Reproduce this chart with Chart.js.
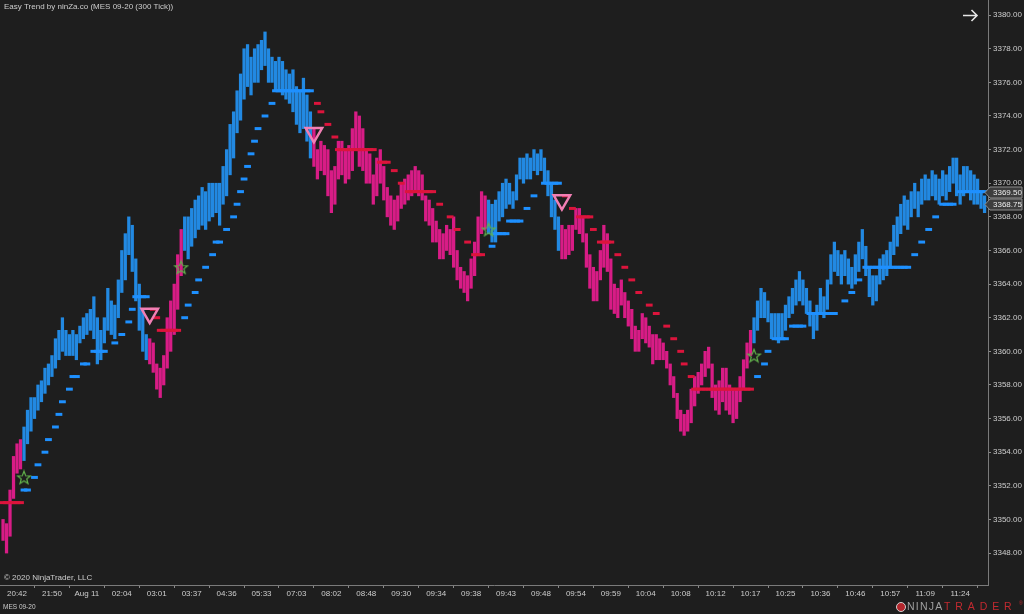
<!DOCTYPE html>
<html><head><meta charset="utf-8">
<script src="https://cdn.jsdelivr.net/npm/chart.js@4/dist/chart.umd.min.js"></script>
<style>html,body{margin:0;padding:0;background:#1e1e1e;overflow:hidden}</style>
</head><body>
<canvas id="c" width="1024" height="614"></canvas>
<script>
const _ = null;
const chartTitle = 'Easy Trend by ninZa.co (MES 09-20 (300 Tick))';
const instrument = 'MES 09-20';
const copyrightText = '\u00A9 2020 NinjaTrader, LLC';
const timeLabels = ['20:42','21:50','Aug 11','02:04','03:01','03:37','04:36','05:33','07:03','08:02','08:48','09:30','09:34','09:38','09:43','09:48','09:54','09:59','10:04','10:08','10:12','10:17','10:25','10:36','10:46','10:57','11:09','11:24'];
const timeLabelBars = [4,14,24,34,44,54,64,74,84,94,104,114,124,134,144,154,164,174,184,194,204,214,224,234,244,254,264,274];
const priceTicks = [3348,3350,3352,3354,3356,3358,3360,3362,3364,3366,3368,3370,3372,3374,3376,3378,3380];

const highs = [
3350.0,3349.75,3351.75,3353.75,3354.5,3354.75,3355.5,3356.5,3357.25,3357.25,
3358.0,3358.25,3359.0,3359.25,3359.75,3360.75,3361.25,3362.0,3361.25,3361.0,
3361.25,3361.0,3361.5,3362.0,3362.25,3362.5,3363.25,3362.0,3361.25,3362.0,
3363.75,3363.0,3362.75,3364.25,3366.0,3367.0,3368.0,3367.5,3365.5,3364.0,
3362.5,3361.0,3360.75,3360.5,3359.25,3359.0,3359.75,3362.0,3363.0,3364.0,
3365.75,3367.25,3368.0,3368.0,3368.5,3369.0,3369.25,3369.75,3369.5,3370.0,
3370.0,3370.0,3370.0,3371.0,3372.0,3373.5,3374.25,3375.5,3376.5,3378.0,
3378.25,3377.5,3378.0,3378.25,3378.5,3379.0,3378.0,3377.5,3377.25,3377.5,
3377.25,3376.75,3376.5,3376.75,3375.75,3375.5,3376.25,3375.25,3374.25,3373.25,
3372.0,3372.5,3372.25,3372.0,3370.75,3371.0,3372.5,3372.5,3372.0,3372.25,
3373.25,3374.25,3374.0,3373.25,3372.0,3371.75,3370.5,3371.5,3372.0,3371.0,
3369.75,3369.25,3369.0,3369.25,3370.0,3370.25,3370.5,3370.75,3371.0,3370.75,
3370.5,3369.25,3369.0,3368.5,3367.75,3367.25,3367.0,3367.5,3367.25,3368.0,
3366.0,3365.0,3364.75,3364.5,3365.5,3366.5,3368.0,3369.5,3369.25,3369.0,
3368.75,3369.0,3369.5,3370.0,3370.25,3370.0,3369.5,3370.5,3371.5,3371.5,
3371.75,3371.5,3372.0,3371.75,3372.0,3371.5,3370.75,3370.0,3369.0,3368.0,
3367.5,3367.25,3367.5,3367.5,3368.5,3368.5,3368.0,3367.0,3365.75,3365.0,
3364.75,3366.0,3367.5,3367.0,3365.5,3364.0,3363.75,3364.25,3363.5,3363.0,
3362.5,3361.5,3361.25,3362.25,3362.0,3361.5,3361.0,3361.0,3360.75,3360.5,
3360.0,3359.25,3358.5,3357.5,3356.5,3356.25,3356.5,3357.75,3358.5,3358.75,
3359.25,3360.0,3360.25,3359.25,3358.0,3358.25,3359.0,3359.0,3358.0,3357.75,
3357.75,3358.5,3359.5,3360.5,3361.25,3362.0,3363.0,3363.75,3363.5,3363.0,
3362.25,3362.25,3362.25,3362.25,3362.75,3363.25,3363.75,3364.25,3364.75,3364.25,
3363.75,3363.0,3362.25,3362.75,3363.75,3363.25,3364.25,3365.75,3366.5,3366.0,
3365.75,3366.0,3365.5,3365.0,3365.75,3366.5,3367.25,3366.25,3365.0,3364.5,
3364.5,3365.5,3365.75,3366.0,3366.5,3367.5,3368.0,3368.75,3369.25,3369.0,
3369.5,3370.0,3369.5,3370.25,3370.5,3370.25,3370.75,3370.5,3370.25,3370.75,
3370.5,3371.0,3371.5,3371.5,3370.5,3371.0,3371.0,3370.75,3370.5,3370.25,
3369.5,3369.25];

const lows = [
3348.75,3348.0,3349.0,3351.25,3352.75,3353.0,3353.5,3354.5,3355.25,3356.0,
3356.5,3357.0,3357.5,3358.0,3358.5,3359.0,3359.5,3360.0,3359.75,3359.75,
3359.75,3359.5,3360.5,3360.75,3361.0,3361.25,3360.75,3359.25,3359.5,3360.5,
3361.25,3361.0,3360.75,3362.0,3363.5,3364.25,3365.75,3364.75,3363.0,3361.25,
3360.0,3359.5,3359.25,3358.75,3357.75,3357.25,3358.0,3359.0,3360.0,3361.0,
3362.5,3364.5,3366.0,3365.5,3366.25,3366.75,3367.25,3367.5,3367.25,3367.75,
3368.0,3368.25,3367.5,3368.75,3369.25,3370.5,3371.5,3373.0,3373.75,3375.0,
3375.75,3375.25,3376.0,3376.0,3376.75,3377.0,3376.0,3376.0,3375.5,3375.5,
3375.25,3375.0,3374.75,3374.25,3373.5,3373.0,3373.25,3372.5,3371.5,3371.0,
3370.25,3370.75,3370.5,3369.25,3368.25,3368.75,3370.25,3370.5,3370.0,3370.25,
3370.75,3372.0,3371.0,3370.75,3370.0,3370.0,3368.75,3369.25,3370.0,3369.0,
3368.0,3367.5,3367.25,3367.75,3368.5,3368.75,3369.0,3369.25,3369.5,3369.25,
3369.0,3367.75,3367.5,3366.5,3366.5,3365.5,3365.5,3366.0,3365.75,3365.0,
3364.25,3363.75,3363.5,3363.0,3363.75,3364.5,3365.75,3367.0,3367.25,3367.0,
3366.5,3366.5,3367.75,3368.0,3368.5,3368.75,3368.5,3369.0,3370.25,3370.0,
3370.25,3370.25,3370.75,3370.5,3370.75,3370.0,3369.25,3368.0,3367.25,3366.0,
3365.5,3365.5,3365.75,3366.0,3367.25,3367.0,3366.5,3365.0,3363.75,3363.0,
3363.0,3364.25,3365.0,3364.75,3362.5,3362.25,3362.0,3362.75,3362.0,3361.5,
3360.75,3360.0,3360.0,3360.75,3360.5,3360.25,3359.25,3359.5,3359.5,3359.5,
3359.0,3358.0,3357.25,3356.0,3355.25,3355.0,3355.25,3355.75,3356.75,3357.5,
3358.0,3358.5,3359.0,3357.25,3356.5,3356.25,3357.0,3356.5,3356.25,3355.75,
3356.0,3357.0,3357.75,3359.0,3359.75,3360.5,3361.25,3362.0,3362.0,3361.75,
3360.75,3360.75,3360.5,3360.75,3361.25,3362.0,3362.25,3362.75,3363.0,3362.75,
3362.25,3361.5,3360.75,3361.25,3362.25,3362.0,3362.5,3364.0,3364.75,3364.5,
3364.0,3364.5,3364.0,3363.75,3364.0,3364.75,3365.5,3364.5,3363.25,3362.75,
3363.0,3364.0,3364.25,3364.5,3365.0,3365.75,3366.25,3367.0,3367.5,3367.25,
3368.0,3368.5,3368.0,3368.75,3369.0,3369.0,3369.25,3369.0,3368.75,3369.25,
3369.0,3369.5,3370.0,3369.25,3368.75,3369.25,3369.5,3369.0,3368.75,3368.75,
3368.5,3368.25];

const trendLine = [
3351,3351,3351,3351,3351,3351,3351.75,3351.75,_,3352.5,
3353.25,_,3354,3354.75,_,3355.5,3356.25,3357,_,3357.75,
3358.5,3358.5,_,3359.25,3359.25,_,3360,3360,3360,3360,
_,_,3360.5,_,3361,_,3361.75,3362.5,3363.25,3363.25,
3363.25,3363.25,_,3362.5,3362,3361.25,3361.25,3361.25,3361.25,3361.25,
3361.25,_,3362,3362.75,_,3363.5,3364.25,_,3365,_,
3365.75,3366.5,3366.5,_,3367.25,_,3368,3368.75,3369.5,3370.25,
3371,3371.75,3372.5,3373.25,_,3374,_,3374.75,3375.5,3375.5,
3375.5,3375.5,3375.5,3375.5,3375.5,3375.5,3375.5,3375.5,3375.5,_,
3374.75,3374.25,_,3373.5,_,3372.75,3372,3372,3372,3372,
3372,3372,3372,3372,3372,3372,3372,_,3371.25,3371.25,
3371.25,_,3370.75,_,3370,_,3369.5,3369.5,3369.5,3369.5,
3369.5,3369.5,3369.5,3369.5,_,3368.75,_,_,3368,_,
3367.25,_,_,3366.5,_,3365.75,3365.75,3365.75,_,_,
3366.25,3367,3367,3367,3367,3367.75,3367.75,3367.75,3367.75,_,
3368.5,_,3369.25,_,_,3370,3370,3370,3370,3370,
_,3369.25,_,3368.5,_,3368,3368,3368,3368,3367.25,
_,3366.5,3366.5,3366.5,3366.5,_,3365.75,_,3365,_,
3364.25,_,3363.5,_,_,3362.75,_,3362.25,_,_,
3361.5,_,3360.75,_,3360,3359.25,_,3358.5,3357.75,3357.75,
3357.75,3357.75,3357.75,3357.75,3357.75,3357.75,3357.75,3357.75,3357.75,3357.75,
3357.75,3357.75,3357.75,3357.75,3357.75,_,3358.5,_,3359.25,3360,
_,3360.75,3360.75,3360.75,3360.75,_,3361.5,3361.5,3361.5,3361.5,
_,3362.25,3362.25,3362.25,3362.25,3362.25,3362.25,3362.25,3362.25,_,
_,3363,_,3363.5,_,3364.25,_,3365,3365,3365,
3365,3365,3365,3365,3365,3365,3365,3365,3365,3365,
_,3365.75,_,3366.5,_,3367.25,_,3368,_,3368.75,
3368.75,3368.75,3368.75,_,3369.5,3369.5,3369.5,3369.5,3369.5,3369.5,
3369.5,3369.5];

const trendSwitchBars = [6, 42, 52, 89, 139, 160, 215]; // trend starts down, flips at each
const sellSignalBars = [42, 89, 160];
const sellSignalPrices = [3362.25, 3373.0, 3369.0];
const buySignalBars = [6, 51, 139, 215];
const buySignalPrices = [3352.5, 3365.0, 3367.25, 3359.75];
const lastClose = 3368.75;

const BAR_UP = '#2289e2', BAR_DN = '#d81c86';
const TR_UP = '#1e90ff', TR_DN = '#dc143c';
const FONT = "'Liberation Sans', Arial, sans-serif";
Chart.defaults.font.family = FONT;

function isUp(i){ let up=false; for(const s of trendSwitchBars){ if(i>=s) up=!up; } return up; }

function makeStar(size, color){
  const c=document.createElement('canvas'); c.width=size; c.height=size;
  const g=c.getContext('2d');
  const cx=size/2, cy=size/2+0.6, R=size/2-1.2, r=R*0.42;
  g.beginPath();
  for(let k=0;k<10;k++){ const a=-Math.PI/2+k*Math.PI/5; const rr=(k%2)?r:R; g.lineTo(cx+rr*Math.cos(a), cy+rr*Math.sin(a)); }
  g.closePath(); g.strokeStyle=color; g.lineWidth=1.2; g.stroke();
  return c;
}
const starImg = makeStar(16, '#62b24c');

const trendPts = [];
trendLine.forEach((v,i)=>{ if(v!==null) trendPts.push({x:i,y:v}); });

const decor = {
  id:'decor',
  beforeDraw(chart){
    const ctx=chart.ctx; ctx.save(); ctx.fillStyle='#1e1e1e'; ctx.fillRect(0,0,chart.width,chart.height); ctx.restore();
  },
  afterDraw(chart){
    const ctx=chart.ctx, ys=chart.scales.y;
    ctx.save();
    ctx.textBaseline='middle'; ctx.textAlign='left';
    ctx.fillStyle='#cdcdcd';
    ctx.font='8px '+FONT; ctx.fillText(chartTitle, 4, 7);
    ctx.fillText(copyrightText, 4, 578);
    ctx.font='6.5px '+FONT; ctx.fillText(instrument, 3, 607);
    // arrow
    ctx.strokeStyle='#e6e6e6'; ctx.lineWidth=1.6;
    ctx.beginPath(); ctx.moveTo(963,15.5); ctx.lineTo(977,15.5); ctx.moveTo(971.5,10); ctx.lineTo(977,15.5); ctx.lineTo(971.5,21); ctx.stroke();
    // price markers
    let lastTrend=null; for(const v of trendLine){ if(v!==null) lastTrend=v; }
    [lastTrend, lastClose].forEach(v=>{
      const y=Math.round(ys.getPixelForValue(v))+0.5;
      ctx.beginPath();
      ctx.moveTo(985,y); ctx.lineTo(990,y-5.5); ctx.lineTo(1022,y-5.5); ctx.lineTo(1022,y+5.5); ctx.lineTo(990,y+5.5); ctx.closePath();
      ctx.fillStyle='#3d3d3d'; ctx.fill(); ctx.strokeStyle='#8c8c8c'; ctx.lineWidth=1; ctx.stroke();
      ctx.fillStyle='#ececec'; ctx.font='8px '+FONT; ctx.fillText(v.toFixed(2), 993, y+0.5);
    });
    // logo
    ctx.beginPath(); ctx.arc(901,607,4.5,0,Math.PI*2); ctx.fillStyle='#b3262c'; ctx.fill();
    ctx.strokeStyle='#d0d0d0'; ctx.lineWidth=1; ctx.stroke();
    ctx.font='10.5px '+FONT;
    try{ ctx.letterSpacing='1.2px'; }catch(e){}
    ctx.fillStyle='#a0a0a0'; ctx.fillText('NINJA', 907, 607.5);
    try{ ctx.letterSpacing='4.9px'; }catch(e){}
    ctx.fillStyle='#c22a30'; ctx.fillText('TRADER', 944, 607.5);
    try{ ctx.letterSpacing='0px'; }catch(e){}
    ctx.font='5px '+FONT; ctx.fillText('\u00AE', 1019, 604);
    ctx.restore();
  }
};

new Chart(document.getElementById('c'), {
  type:'line',
  data:{ datasets:[
    { type:'line', order:0, showLine:false,
      data: sellSignalBars.map((b,k)=>({x:b,y:sellSignalPrices[k]})),
      pointStyle:'triangle', rotation:180, pointRadius:9.5, pointBorderWidth:2.5,
      pointBorderColor:'#f27fb4', pointBackgroundColor:'rgba(0,0,0,0)' },
    { type:'line', order:0, showLine:false,
      data: buySignalBars.map((b,k)=>({x:b,y:buySignalPrices[k]})),
      pointStyle: starImg, pointRadius:8 },
    { type:'line', order:1, showLine:false, data: trendPts,
      pointStyle:'line', pointRadius:3.4, pointBorderWidth:3,
      pointBorderColor: trendPts.map(p=>isUp(p.x)?TR_UP:TR_DN) },
    { type:'bar', order:2, grouped:false,
      data: highs.map((h,i)=>({x:i,y:[lows[i],h]})),
      backgroundColor: highs.map((h,i)=>isUp(i)?BAR_UP:BAR_DN),
      barThickness:2.6, borderWidth:0 }
  ]},
  options:{
    responsive:false, animation:false, events:[],
    layout:{padding:0, autoPadding:false},
    plugins:{legend:{display:false}, tooltip:{enabled:false}},
    scales:{
      x:{ type:'linear', min:-0.87, max:281.98, offset:false,
        afterBuildTicks(s){ s.ticks = timeLabelBars.map(v=>({value:v})); },
        afterFit(s){ s.height=29; s.paddingLeft=0; s.paddingRight=0; },
        ticks:{ autoSkip:false, maxRotation:0, minRotation:0, padding:1, color:'#cdcdcd', font:{size:8},
          callback:(v,idx)=>timeLabels[idx] },
        grid:{ drawOnChartArea:false, drawTicks:true, tickLength:3, color:'#8a8a8a' },
        border:{ display:true, color:'#7a7a7a', width:1 } },
      y:{ type:'linear', position:'right', min:3346.1, max:3380.9, beginAtZero:false,
        afterBuildTicks(s){ s.ticks = priceTicks.map(v=>({value:v})); },
        afterFit(s){ s.width=36; s.paddingTop=0; s.paddingBottom=0; },
        ticks:{ padding:2, color:'#cdcdcd', font:{size:8}, callback:v=>Number(v).toFixed(2) },
        grid:{ drawOnChartArea:false, drawTicks:true, tickLength:3, color:'#8a8a8a' },
        border:{ display:true, color:'#7a7a7a', width:1 } }
    }
  },
  plugins:[decor]
});
</script>
</body></html>
